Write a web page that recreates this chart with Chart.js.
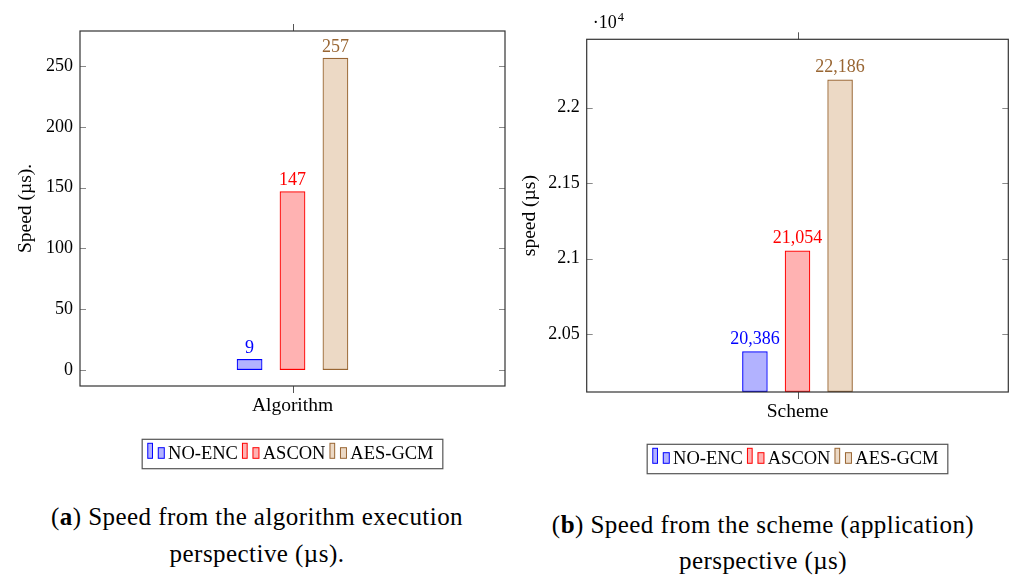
<!DOCTYPE html>
<html>
<head>
<meta charset="utf-8">
<script src="https://cdn.jsdelivr.net/npm/chart.js@4.4.1/dist/chart.umd.min.js"></script>
<style>
  html, body { margin: 0; padding: 0; background: #fff; }
  body { width: 1009px; height: 575px; overflow: hidden; position: relative; font-family: "Liberation Serif", serif; }
  #wa { position: absolute; left: 0; top: 0; width: 510px; height: 485px; }
  #wb { position: absolute; left: 510px; top: 0; width: 499px; height: 485px; }
  .cap { position: absolute; white-space: nowrap; font-size: 25px; line-height: 25px; color: #000;
         letter-spacing: 0.45px; transform: translateX(-50%); }
</style>
</head>
<body>
<div id="wa"><canvas id="ca"></canvas></div>
<div id="wb"><canvas id="cb"></canvas></div>
<div class="cap" id="capA1" style="left:257px; top:504.1px;"></div>
<div class="cap" id="capA2" style="left:257px; top:540.8px;"></div>
<div class="cap" id="capB1" style="left:763px; top:512.1px;"></div>
<div class="cap" id="capB2" style="left:763px; top:547.6px;"></div>
<script>
// ---------- data ----------
const seriesNames = ['NO-ENC', 'ASCON', 'AES-GCM'];
const categoriesA = ['Algorithm'];
const valuesA = [9, 147, 257];
const yTicksA = [0, 50, 100, 150, 200, 250];
const yTitleA = 'Speed (µs).';
const categoriesB = ['Scheme'];
const valuesB = [20386, 21054, 22186];
const yTicksB = [20500, 21000, 21500, 22000];
const yTitleB = 'speed (µs)';
const captionA = ['(<b>a</b>) Speed from the algorithm execution', 'perspective (µs).'];
const captionB = ['(<b>b</b>) Speed from the scheme (application)', 'perspective (µs)'];

// ---------- styles ----------
const fillColors = ['rgba(0,0,255,0.3)', 'rgba(255,0,0,0.3)', 'rgba(191,128,64,0.3)'];
const lineColors = ['#0000ff', '#ff0000', '#996633'];
const FONT = '"Liberation Serif", "Times New Roman", serif';

document.getElementById('capA1').innerHTML = captionA[0];
document.getElementById('capA2').innerHTML = captionA[1];
document.getElementById('capB1').innerHTML = captionB[0];
document.getElementById('capB2').innerHTML = captionB[1];

const decorPlugin = {
  id: 'decor',
  afterDatasetsDraw(chart, args, o) {
    const ctx = chart.ctx;
    const ca = chart.chartArea;
    const xs = chart.scales.x, ys = chart.scales.y;
    ctx.save();
    // y ticks (inside, both sides)
    ctx.strokeStyle = '#8a8a8a';
    ctx.lineWidth = 1;
    ys.ticks.forEach(t => {
      const y = Math.round(ys.getPixelForValue(t.value)) + 0.5;
      ctx.beginPath();
      ctx.moveTo(ca.left, y); ctx.lineTo(ca.left + 6, y);
      ctx.moveTo(ca.right - 6, y); ctx.lineTo(ca.right, y);
      ctx.stroke();
    });
    // x ticks (outside, top and bottom)
    ctx.strokeStyle = '#555';
    xs.ticks.forEach((t, i) => {
      const x = Math.round(xs.getPixelForTick(i)) + 0.5;
      ctx.beginPath();
      ctx.moveTo(x, ca.top - 7); ctx.lineTo(x, ca.top);
      ctx.moveTo(x, ca.bottom); ctx.lineTo(x, ca.bottom + 7);
      ctx.stroke();
    });
    // frame
    ctx.strokeStyle = '#333';
    ctx.lineWidth = 1.2;
    ctx.strokeRect(ca.left, ca.top, ca.right - ca.left, ca.bottom - ca.top);
    // value labels
    ctx.font = '18px ' + FONT;
    ctx.textAlign = 'center';
    ctx.textBaseline = 'alphabetic';
    chart.data.datasets.forEach((ds, i) => {
      const meta = chart.getDatasetMeta(i);
      meta.data.forEach((el, j) => {
        ctx.fillStyle = lineColors[i];
        ctx.fillText(ds.data[j].toLocaleString('en-US'), el.x, el.y - o.labelGap);
      });
    });
    // exponent marker
    if (o.exponent) {
      ctx.fillStyle = '#000';
      ctx.textAlign = 'left';
      ctx.font = '18px ' + FONT;
      const base = '·10';
      const x0 = ca.left + 6;
      ctx.fillText(base, x0, 28);
      const w = ctx.measureText(base).width;
      ctx.font = '12.5px ' + FONT;
      ctx.fillText(o.exponent, x0 + w + 1, 20.5);
    }
    // legend
    ctx.font = '18.5px ' + FONT;
    const tw = chart.data.datasets.map(d => ctx.measureText(d.label).width);
    const padL = 5.6, i1w = 4.7, i12 = 10.5, i2w = 6, i2t = 9.8, afterText = 4.5, padR = 9.3;
    let total = padL + padR;
    tw.forEach((w, i) => { total += i12 + i2t + w + (i < tw.length - 1 ? afterText : 0); });
    const cx = (ca.left + ca.right) / 2;
    const bl = cx - total / 2;
    const bt = ca.bottom + o.legendOffset;
    const bh = 29.4;
    ctx.strokeStyle = '#555';
    ctx.lineWidth = 1.2;
    ctx.strokeRect(bl, bt, total, bh);
    let x = bl + padL;
    ctx.textAlign = 'left';
    chart.data.datasets.forEach((d, i) => {
      ctx.fillStyle = fillColors[i];
      ctx.strokeStyle = lineColors[i];
      ctx.lineWidth = 1;
      ctx.fillRect(x, bt + 4, i1w, 15);
      ctx.strokeRect(x, bt + 4, i1w, 15);
      ctx.fillRect(x + i12, bt + 8.4, i2w, 10.6);
      ctx.strokeRect(x + i12, bt + 8.4, i2w, 10.6);
      ctx.fillStyle = '#000';
      ctx.fillText(d.label, x + i12 + i2t, bt + 19.8);
      x += i12 + i2t + tw[i] + afterText;
    });
    ctx.restore();
  }
};

function makeChart(id, cfg) {
  return new Chart(document.getElementById(id), {
    type: 'bar',
    data: {
      labels: cfg.categories,
      datasets: seriesNames.map((n, i) => ({
        label: n,
        data: [cfg.values[i]],
        backgroundColor: fillColors[i],
        borderColor: lineColors[i],
        borderWidth: 1.2,
        borderSkipped: false,
        base: cfg.base,
        categoryPercentage: 0.303,
        barPercentage: 0.6
      }))
    },
    options: {
      responsive: true,
      maintainAspectRatio: false,
      animation: false,
      layout: { padding: cfg.padding },
      plugins: {
        legend: { display: false },
        tooltip: { enabled: false },
        decor: cfg.decor
      },
      scales: {
        x: {
          grid: { display: false, drawTicks: false },
          border: { display: false },
          ticks: { color: '#000', font: { family: FONT, size: 19.5 }, padding: 8 },
          afterFit: s => { s.height = cfg.xHeight; }
        },
        y: {
          min: cfg.min, max: cfg.max,
          grid: { display: false, drawTicks: false },
          border: { display: false },
          ticks: { color: '#000', font: { family: FONT, size: 18 }, padding: 7, callback: cfg.tickFmt },
          afterBuildTicks: s => { s.ticks = cfg.yTicks.map(v => ({ value: v })); },
          afterFit: s => { s.width = cfg.yWidth; },
          title: { display: true, text: cfg.yTitle, color: '#000', font: { family: FONT, size: 19.5 },
                   padding: { top: cfg.titlePad, bottom: 0 } }
        }
      }
    },
    plugins: [decorPlugin]
  });
}

makeChart('ca', {
  categories: categoriesA, values: valuesA, yTicks: yTicksA, yTitle: yTitleA,
  min: -13.2, max: 279, base: undefined,
  padding: { left: 0, right: 5, top: 31, bottom: 0 },
  xHeight: 99, yWidth: 80, titlePad: 14.3,
  tickFmt: v => String(v),
  decor: { labelGap: 6, legendOffset: 53.3 }
});

makeChart('cb', {
  categories: categoriesB, values: valuesB, yTicks: yTicksB, yTitle: yTitleB,
  min: 20116, max: 22453, base: 20116,
  padding: { left: 0, right: 0.7, top: 39.3, bottom: 0 },
  xHeight: 93, yWidth: 76.7, titlePad: 8,
  tickFmt: v => String(v / 10000),
  decor: { labelGap: 7.5, legendOffset: 52.3, exponent: '4' }
});
</script>
</body>
</html>
